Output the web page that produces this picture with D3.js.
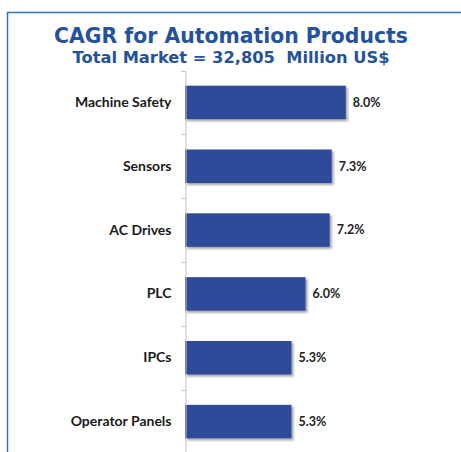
<!DOCTYPE html>
<html>
<head>
<meta charset="utf-8">
<script src="https://cdn.jsdelivr.net/npm/d3@7"></script>
<style>
  body { margin: 0; background: #fff; }
  svg { display: block; }
</style>
</head>
<body>
<div id="chart"></div>
<script>
// Data

var categories = ['Machine Safety', 'Sensors', 'AC Drives', 'PLC', 'IPCs', 'Operator Panels'];
var cagr = [8.0, 7.3, 7.2, 6.0, 5.3, 5.3];
var titleText = 'CAGR for Automation Products';
var subtitleText = 'Total Market = 32,805  Million US$';

// Dimensions

var width = 461;
var height = 452;
var margin = { top: 70.5, left: 185, bottom: -1.5 };

var svg = d3.select('#chart')
	.append('svg')
	.attr('width', width)
	.attr('height', height);

// drop shadow for bars
var defs = svg.append('defs');
var shadow = defs.append('filter')
	.attr('id', 'shadow')
	.attr('x', '-10%').attr('y', '-20%')
	.attr('width', '130%').attr('height', '160%');
shadow.append('feDropShadow')
	.attr('dx', 2).attr('dy', 2)
	.attr('stdDeviation', 1.3)
	.attr('flood-color', '#000')
	.attr('flood-opacity', 0.35);

// outer frame (open at right and bottom)
svg.append('path')
	.attr('d', 'M7.5,' + height + 'V12.5H' + width)
	.attr('fill', 'none')
	.attr('stroke', '#2e75b6')
	.attr('stroke-width', 1.5);

// Titles

svg.append('text')
	.attr('x', 231)
	.attr('y', 43)
	.attr('text-anchor', 'middle')
	.attr('font-family', 'Verdana, "DejaVu Sans", sans-serif')
	.attr('font-weight', 'bold')
	.attr('font-size', 20.4)
	.attr('fill', '#24529b')
	.text(titleText);

svg.append('text')
	.attr('x', 231)
	.attr('y', 63)
	.attr('text-anchor', 'middle')
	.attr('font-family', 'Verdana, "DejaVu Sans", sans-serif')
	.attr('font-weight', 'bold')
	.attr('font-size', 16.3)
	.attr('fill', '#24529b')
	.style('white-space', 'pre')
	.text(subtitleText);

// Scales

var y = d3.scaleBand()
	.domain(categories)
	.range([margin.top, height - margin.bottom])
	.paddingInner(0.475)
	.paddingOuter(0.2375);

var x = d3.scaleLinear()
	.domain([0, 10])
	.range([margin.left, margin.left + 201]);

// Bars

svg.append('g')
	.selectAll('rect')
	.data(cagr)
	.enter()
	.append('rect')
	.attr('x', x(0))
	.attr('y', function (d, i) { return y(categories[i]); })
	.attr('width', function (d) { return x(d) - x(0); })
	.attr('height', y.bandwidth())
	.attr('fill', '#2f4b99')
	.attr('filter', 'url(#shadow)');

// Value labels

svg.append('g')
	.selectAll('text')
	.data(cagr)
	.enter()
	.append('text')
	.attr('x', function (d) { return x(d) + 7; })
	.attr('y', function (d, i) { return y(categories[i]) + y.bandwidth() / 2; })
	.attr('dy', '0.35em')
	.attr('font-family', 'Lato, "Open Sans", sans-serif')
	.attr('font-weight', 'bold')
	.attr('font-size', 12.5)
	.attr('fill', '#222')
	.text(function (d) { return d.toFixed(1) + '%'; });

// Category axis

var yAxis = d3.axisLeft(y)
	.tickSize(0)
	.tickPadding(14);

var axisG = svg.append('g')
	.attr('transform', 'translate(' + (margin.left + 0.5) + ',0)')
	.call(yAxis);

axisG.select('.domain')
	.attr('stroke', '#bfbfbf')
	.attr('stroke-width', 1);

axisG.selectAll('text')
	.attr('font-family', 'Lato, "Open Sans", sans-serif')
	.attr('font-weight', 'bold')
	.attr('font-size', 14)
	.attr('fill', '#1a1a1a');

// small tick marks on the category boundaries
var step = y.step();

axisG.selectAll('.bound')
	.data(d3.range(categories.length))
	.enter()
	.append('line')
	.attr('class', 'bound')
	.attr('x1', -4).attr('x2', 0)
	.attr('y1', function (i) { return Math.round(margin.top + i * step) + 0.5; })
	.attr('y2', function (i) { return Math.round(margin.top + i * step) + 0.5; })
	.attr('stroke', '#bfbfbf');
</script>
</body>
</html>
